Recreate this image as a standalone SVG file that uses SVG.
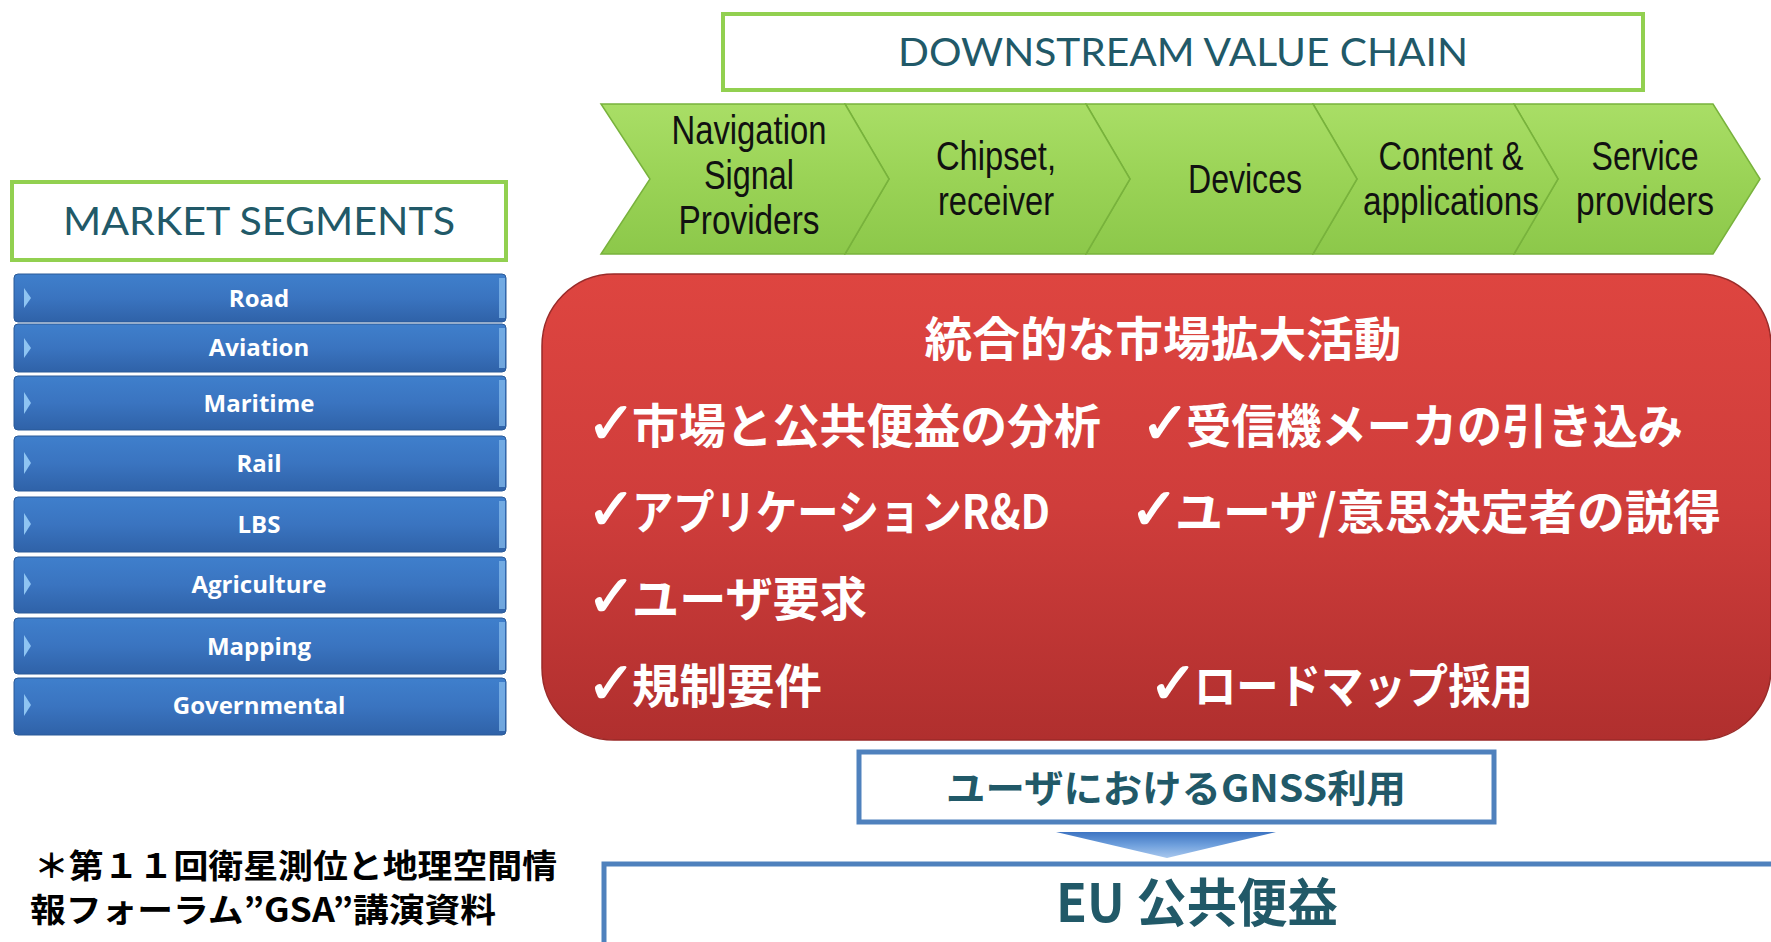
<svg xmlns="http://www.w3.org/2000/svg" width="1771" height="942" viewBox="0 0 1771 942">
<defs>
<linearGradient id="gGreen" x1="0" y1="0" x2="0" y2="1">
<stop offset="0" stop-color="#a9de66"/>
<stop offset="0.5" stop-color="#9ad356"/>
<stop offset="1" stop-color="#8cc84a"/>
</linearGradient>
<linearGradient id="gBlue" x1="0" y1="0" x2="0" y2="1">
<stop offset="0" stop-color="#3f7fcc"/>
<stop offset="0.5" stop-color="#3a74c0"/>
<stop offset="1" stop-color="#2f62a8"/>
</linearGradient>
<linearGradient id="gRed" x1="0" y1="0" x2="0" y2="1">
<stop offset="0" stop-color="#de4540"/>
<stop offset="0.5" stop-color="#cf3d3b"/>
<stop offset="1" stop-color="#b02f2e"/>
</linearGradient>
<linearGradient id="gArrow" x1="0" y1="0" x2="0" y2="1">
<stop offset="0" stop-color="#3d74c2"/>
<stop offset="0.5" stop-color="#6e9fdc"/>
<stop offset="1" stop-color="#a9c8ee"/>
</linearGradient>
<style>
.hdrbox{fill:#ffffff;stroke:#92d050;stroke-width:4}
.hdr{font-family:Lato,"Open Sans","Liberation Sans",sans-serif;font-size:38px;fill:#215968;text-anchor:middle}
.chev{fill:url(#gGreen);stroke:#78b23c;stroke-width:1.5}
.ct{font-family:"Liberation Sans",Arial,sans-serif;font-size:40px;fill:#111;text-anchor:middle}
.bar{fill:url(#gBlue);stroke:#2a5a98;stroke-width:1}
.tri{fill:#8ec4f2}
.bev{fill:#7fb6ea;opacity:0.8}
.bt{font-family:"Open Sans","Liberation Sans",sans-serif;font-weight:bold;font-size:24px;fill:#fff;text-anchor:middle}
.jp{font-family:"Noto Sans CJK JP","Noto Sans CJK SC",sans-serif;font-weight:bold;font-size:47px;fill:#fff}
.chk{font-family:"DejaVu Sans",sans-serif;font-weight:bold;font-size:58px;fill:#fff;stroke:#fff;stroke-width:1.5}
.bluebox{fill:#fff;stroke:#4f81bd;stroke-width:5}
.teal{font-family:"Noto Sans CJK JP","Noto Sans CJK SC",sans-serif;font-weight:bold;fill:#215968;text-anchor:middle}
.note{font-family:"Noto Sans CJK JP","Noto Sans CJK SC",sans-serif;font-weight:bold;font-size:33px;fill:#000}
</style>
</defs>
<rect width="1771" height="942" fill="#fff"/>

<g id="downstream-header">
<rect class="hdrbox" x="723" y="14" width="920" height="76"/>
<text class="hdr" x="1183" y="66" textLength="570" lengthAdjust="spacingAndGlyphs">DOWNSTREAM VALUE CHAIN</text>
</g>

<g id="market-header">
<rect class="hdrbox" x="12" y="182" width="494" height="78"/>
<text class="hdr" x="259" y="235" textLength="392" lengthAdjust="spacingAndGlyphs">MARKET SEGMENTS</text>
</g>

<g id="chain">
<g id="chev5">
<polygon class="chev" points="1514,104 1713,104 1760,179 1713,254 1514,254 1558,179"/>
<text class="ct" x="1645" y="170" textLength="107" lengthAdjust="spacingAndGlyphs">Service</text>
<text class="ct" x="1645" y="215" textLength="138" lengthAdjust="spacingAndGlyphs">providers</text>
</g>
<g id="chev4">
<polygon class="chev" points="1313,104 1514,104 1558,179 1514,254 1313,254 1357,179"/>
<text class="ct" x="1451" y="170" textLength="145" lengthAdjust="spacingAndGlyphs">Content &amp;</text>
<text class="ct" x="1451" y="215" textLength="176" lengthAdjust="spacingAndGlyphs">applications</text>
</g>
<g id="chev3">
<polygon class="chev" points="1086,104 1313,104 1357,179 1313,254 1086,254 1130,179"/>
<text class="ct" x="1245" y="193" textLength="114" lengthAdjust="spacingAndGlyphs">Devices</text>
</g>
<g id="chev2">
<polygon class="chev" points="845,104 1086,104 1130,179 1086,254 845,254 889,179"/>
<text class="ct" x="996" y="170" textLength="120" lengthAdjust="spacingAndGlyphs">Chipset,</text>
<text class="ct" x="996" y="215" textLength="116" lengthAdjust="spacingAndGlyphs">receiver</text>
</g>
<g id="chev1">
<polygon class="chev" points="601,104 845,104 889,179 845,254 601,254 650,179"/>
<text class="ct" x="749" y="144" textLength="155" lengthAdjust="spacingAndGlyphs">Navigation</text>
<text class="ct" x="749" y="189" textLength="90" lengthAdjust="spacingAndGlyphs">Signal</text>
<text class="ct" x="749" y="234" textLength="141" lengthAdjust="spacingAndGlyphs">Providers</text>
</g>
</g>

<g id="segments">
<g id="seg-road"><rect class="bar" x="14" y="274" width="492" height="48" rx="4"/><polygon class="tri" points="24,288 31,298 24,308"/><rect class="bev" x="499" y="278" width="6" height="40"/><text class="bt" x="259" y="307">Road</text></g>
<g id="seg-aviation"><rect class="bar" x="14" y="324" width="492" height="48" rx="4"/><polygon class="tri" points="24,338 31,348 24,358"/><rect class="bev" x="499" y="328" width="6" height="40"/><text class="bt" x="259" y="356">Aviation</text></g>
<g id="seg-maritime"><rect class="bar" x="14" y="376" width="492" height="54" rx="4"/><polygon class="tri" points="24,392 31,403 24,414"/><rect class="bev" x="499" y="380" width="6" height="46"/><text class="bt" x="259" y="412">Maritime</text></g>
<g id="seg-rail"><rect class="bar" x="14" y="436" width="492" height="55" rx="4"/><polygon class="tri" points="24,452 31,463 24,474"/><rect class="bev" x="499" y="440" width="6" height="47"/><text class="bt" x="259" y="472">Rail</text></g>
<g id="seg-lbs"><rect class="bar" x="14" y="497" width="492" height="55" rx="4"/><polygon class="tri" points="24,513 31,524 24,535"/><rect class="bev" x="499" y="501" width="6" height="47"/><text class="bt" x="259" y="533">LBS</text></g>
<g id="seg-agriculture"><rect class="bar" x="14" y="557" width="492" height="56" rx="4"/><polygon class="tri" points="24,573 31,584 24,595"/><rect class="bev" x="499" y="561" width="6" height="48"/><text class="bt" x="259" y="593">Agriculture</text></g>
<g id="seg-mapping"><rect class="bar" x="14" y="618" width="492" height="56" rx="4"/><polygon class="tri" points="24,635 31,646 24,657"/><rect class="bev" x="499" y="622" width="6" height="48"/><text class="bt" x="259" y="655">Mapping</text></g>
<g id="seg-governmental"><rect class="bar" x="14" y="678" width="492" height="57" rx="4"/><polygon class="tri" points="24,694 31,705 24,716"/><rect class="bev" x="499" y="682" width="6" height="49"/><text class="bt" x="259" y="714">Governmental</text></g>
</g>

<g id="activities">
<rect x="542" y="274" width="1229" height="466" rx="72" fill="url(#gRed)" stroke="#9a2a28" stroke-width="1.5"/>
<text class="jp" x="1163" y="356" text-anchor="middle" textLength="477" lengthAdjust="spacingAndGlyphs">統合的な市場拡大活動</text>
<text x="587" y="443"><tspan class="chk">✓</tspan><tspan class="jp" x="632" textLength="469" lengthAdjust="spacingAndGlyphs">市場と公共便益の分析</tspan></text>
<text x="1141" y="443"><tspan class="chk">✓</tspan><tspan class="jp" x="1186" textLength="497" lengthAdjust="spacingAndGlyphs">受信機メーカの引き込み</tspan></text>
<text x="587" y="529"><tspan class="chk">✓</tspan><tspan class="jp" x="632" textLength="418" lengthAdjust="spacingAndGlyphs">アプリケーションR&amp;D</tspan></text>
<text x="1130" y="529"><tspan class="chk">✓</tspan><tspan class="jp" x="1175" textLength="546" lengthAdjust="spacingAndGlyphs">ユーザ/意思決定者の説得</tspan></text>
<text x="587" y="616"><tspan class="chk">✓</tspan><tspan class="jp" x="632" textLength="235" lengthAdjust="spacingAndGlyphs">ユーザ要求</tspan></text>
<text x="587" y="703"><tspan class="chk">✓</tspan><tspan class="jp" x="632" textLength="190" lengthAdjust="spacingAndGlyphs">規制要件</tspan></text>
<text x="1149" y="703"><tspan class="chk">✓</tspan><tspan class="jp" x="1194" textLength="339" lengthAdjust="spacingAndGlyphs">ロードマップ採用</tspan></text>
</g>

<g id="gnss-use">
<rect class="bluebox" x="859" y="752" width="635" height="70"/>
<text class="teal" x="1176" y="802" font-size="38" textLength="460" lengthAdjust="spacingAndGlyphs">ユーザにおけるGNSS利用</text>
</g>

<g id="connectors">
<polygon points="1056,832 1276,832 1167,858" fill="url(#gArrow)"/>
</g>

<g id="eu-benefit">
<rect class="bluebox" x="604" y="864" width="1200" height="100"/>
<text class="teal" x="1197" y="922" font-size="52" textLength="282" lengthAdjust="spacingAndGlyphs">EU 公共便益</text>
</g>

<g id="footnote">
<text class="note" x="34" y="878" textLength="523" lengthAdjust="spacingAndGlyphs">＊第１１回衛星測位と地理空間情</text>
<text class="note" x="30" y="922" textLength="466" lengthAdjust="spacingAndGlyphs">報フォーラム”GSA”講演資料</text>
</g>
</svg>
